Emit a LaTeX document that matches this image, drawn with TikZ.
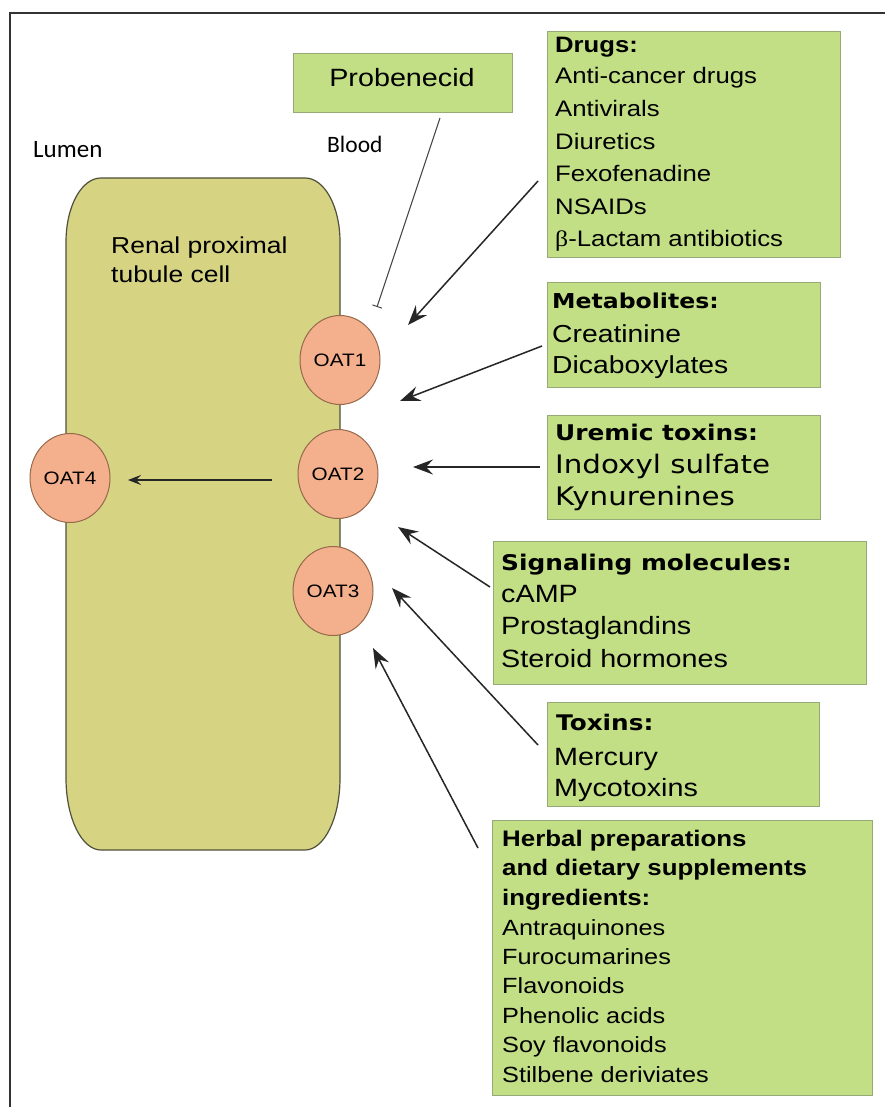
\documentclass[tikz,border=0pt]{standalone}
\usepackage{fontspec}
\setmainfont[FakeStretch=1.15]{Liberation Sans}
\newfontfamily\dv[FakeStretch=1.15]{DejaVu Sans}
\newfontfamily\carl{Carlito}
\newfontfamily\serifb[FakeStretch=1.15]{Liberation Serif}
\usetikzlibrary{arrows.meta,shapes.geometric}
\definecolor{boxfill}{RGB}{195,223,134}
\definecolor{boxdraw}{RGB}{150,170,120}
\definecolor{cellfill}{RGB}{214,211,131}
\definecolor{celldraw}{RGB}{80,80,60}
\definecolor{oatfill}{RGB}{244,176,140}
\definecolor{oatdraw}{RGB}{150,105,75}
\newcommand\betaL{{\serifb β}}
\newcommand\txtlines[6]{%
  \foreach \t [count=\i] in {#6} {\node[ln,font=#2] (#1\i) at (#3,{#4+(\i-1)*#5}) {\t};}}
\tikzset{
  box/.style={draw=boxdraw, line width=1.2pt, fill=boxfill, inner sep=0pt, anchor=north west},
  oat/.style={ellipse, draw=oatdraw, fill=oatfill, line width=1pt, minimum width=80pt,
    minimum height=89pt, inner sep=0pt, font=\fontsize{18}{20}\selectfont},
  ln/.style={anchor=base west, inner sep=0pt},
  arr/.style={draw=black!85, line width=1.5pt, -{Stealth[length=20pt,width=15pt,inset=7pt]}},
  smallarr/.style={draw=black!85, line width=1.3pt, -{Stealth[length=13pt,width=10pt,inset=5pt]}},
  inhib/.style={draw=black!75, line width=1pt, -{Bar[width=10pt]}},
}
\begin{document}
\begin{tikzpicture}[x=1pt,y=-1pt]
\useasboundingbox (0,0) rectangle (885,1107);
\fill[white] (0,0) rectangle (885,1107);
% frame
\draw[black!80, line width=1.5pt] (885,13) -- (10,13) -- (10,1107);
% cell
\draw[fill=cellfill, draw=celldraw, line width=1.2pt]
  (101,178) -- (305,178) .. controls (324.3,178) and (340,206) .. (340,242)
  -- (340,778) .. controls (340,818) and (324.3,850) .. (305,850)
  -- (101,850) .. controls (81.7,850) and (66,818) .. (66,778)
  -- (66,242) .. controls (66,206) and (81.7,178) .. (101,178) -- cycle;
\node[ln,font=\fontsize{23}{26}\selectfont] (renal1) at (111,254) {Renal proximal};
\node[ln,font=\fontsize{23}{26}\selectfont] (renal2) at (111,282) {tubule cell};
\node[ln,font=\carl\fontsize{25}{28}\selectfont] (lumen) at (33,158) {Lumen};
\node[ln,font=\carl\fontsize{23.5}{28}\selectfont] (blood) at (327,153) {Blood};
% transporters
\node[oat] (oat1) at (340,360) {OAT1};
\node[oat] (oat2) at (338,474) {OAT2};
\node[oat] (oat3) at (333,591) {OAT3};
\node[oat] (oat4) at (70,478) {OAT4};
% boxes
\node[box, minimum width=219pt, minimum height=59pt] (prob) at (293,53) {};
\node[anchor=base, inner sep=0pt, font=\fontsize{25}{28}\selectfont] (probT) at (402,87) {Probenecid};
\node[box, minimum width=293pt, minimum height=226pt] (drugs) at (547,31) {};
\node[box, minimum width=273pt, minimum height=105pt] (metab) at (547,282) {};
\node[box, minimum width=273pt, minimum height=104pt] (urem) at (547,415) {};
\node[box, minimum width=373pt, minimum height=143pt] (signal) at (493,541) {};
\node[box, minimum width=272pt, minimum height=104pt] (tox) at (547,702) {};
\node[box, minimum width=380pt, minimum height=275pt] (herb) at (492,820) {};
% texts
\node[ln,font=\bfseries\fontsize{22.3}{26}\selectfont] (drT) at (555,53) {Drugs:};
\txtlines{dr}{\fontsize{22.4}{26}\selectfont}{555}{84}{32.6}{Anti-cancer drugs,Antivirals,Diuretics,Fexofenadine,NSAIDs,\betaL-Lactam antibiotics}
\node[ln,font=\dv\bfseries\fontsize{20.5}{24}\selectfont] (meT) at (552,308) {Metabolites:};
\txtlines{me}{\fontsize{24.6}{28}\selectfont}{552}{342}{31}{Creatinine,Dicaboxylates}
\node[ln,font=\dv\bfseries\fontsize{21.6}{24}\selectfont] (urT) at (555,440) {Uremic toxins:};
\txtlines{ur}{\dv\fontsize{25.5}{28}\selectfont}{555}{473}{32}{Indoxyl sulfate,Kynurenines}
\node[ln,font=\dv\bfseries\fontsize{21.6}{24}\selectfont] (siT) at (501,570) {Signaling molecules:};
\txtlines{si}{\fontsize{25}{28}\selectfont}{501}{602}{32.5}{cAMP,Prostaglandins,Steroid hormones}
\node[ln,font=\dv\bfseries\fontsize{21.5}{24}\selectfont] (toT) at (556,730) {Toxins:};
\txtlines{to}{\fontsize{25}{28}\selectfont}{554}{765}{31}{Mercury,Mycotoxins}
\txtlines{heT}{\bfseries\fontsize{22.5}{26}\selectfont}{502}{846}{29.5}{Herbal preparations,and dietary supplements,ingredients:}
\txtlines{he}{\fontsize{22}{26}\selectfont}{502}{935}{29.4}{Antraquinones,Furocumarines,Flavonoids,Phenolic acids,Soy flavonoids,Stilbene deriviates}
% connector end points
\coordinate (inhS) at (440,118);
\coordinate (inhE) at (377,307);
\coordinate (drS) at (538,181);
\coordinate (drE) at (408,325);
\coordinate (meS) at (542,346);
\coordinate (meE) at (400,401);
\coordinate (urS) at (540,467);
\coordinate (urE) at (413,467);
\coordinate (siS) at (490,587);
\coordinate (siE) at (398,527);
\coordinate (toS) at (538,745);
\coordinate (toE) at (392,588);
\coordinate (heS) at (478,848);
\coordinate (heE) at (373,648);
\coordinate (o2S) at (272,480);
\coordinate (o4E) at (128,480);
% connectors
\draw[inhib] (inhS) -- (inhE);
\draw[arr] (drS) -- (drE);
\draw[arr] (meS) -- (meE);
\draw[arr] (urS) -- (urE);
\draw[arr] (siS) -- (siE);
\draw[arr] (toS) -- (toE);
\draw[arr] (heS) -- (heE);
\draw[smallarr] (o2S) -- (o4E);
\end{tikzpicture}
\end{document}
